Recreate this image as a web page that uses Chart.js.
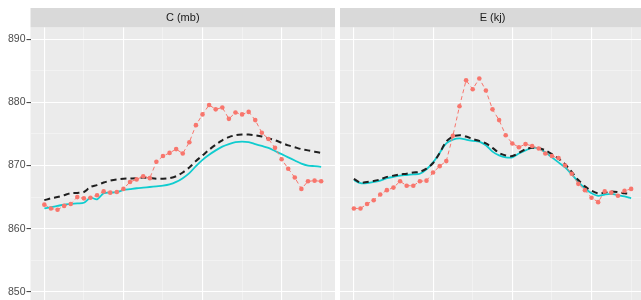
<!DOCTYPE html>
<html>
<head>
<meta charset="utf-8">
<script src="https://cdn.jsdelivr.net/npm/chart.js@4"></script>
<style>
  html, body { margin: 0; padding: 0; background: #fff; overflow: hidden; }
  body { width: 641px; height: 300px; position: relative; }
  .panel { position: absolute; top: 0; height: 300px; }
</style>
</head>
<body>
<div class="panel" style="left:0;width:335px"><canvas id="chartC"></canvas></div>
<div class="panel" style="left:340px;width:305px"><canvas id="chartE"></canvas></div>
<script>
// time steps (x axis labels are cut off in the picture)
const steps = [0, 1, 2, 3, 4, 5, 6, 7, 8, 9, 10, 11, 12, 13, 14, 15, 16, 17, 18, 19, 20,
  21, 22, 23, 24, 25, 26, 27, 28, 29, 30, 31, 32, 33, 34, 35, 36, 37, 38, 39, 40, 41, 42];

// panel C (mb)
const cObserved = [863.8, 863.2, 863.0, 863.6, 863.9, 865.0, 864.8, 864.9, 865.3, 865.9, 865.7,
  865.8, 866.3, 867.4, 867.8, 868.3, 868.0, 870.6, 871.5, 872.0, 872.6, 871.9, 873.7, 876.4,
  878.1, 879.6, 878.9, 879.2, 877.4, 878.4, 878.1, 878.5, 877.2, 875.2, 874.2, 872.8, 871.0,
  869.5, 868.1, 866.3, 867.5, 867.6, 867.5];
const cModelA = [864.5, 864.8, 865.0, 865.3, 865.6, 865.65, 865.8, 866.6, 866.9, 867.3, 867.6,
  867.8, 867.9, 867.95, 868.0, 868.1, 868.0, 867.9, 867.9, 868.0, 868.3, 868.9, 869.7, 870.7,
  871.6, 872.5, 873.3, 874.0, 874.5, 874.8, 874.9, 874.9, 874.8, 874.6, 874.3, 874.0, 873.6,
  873.2, 872.9, 872.6, 872.4, 872.2, 872.0];
const cModelB = [863.2, 863.4, 863.6, 863.8, 863.9, 864.0, 864.1, 864.9, 864.65, 865.6, 865.7,
  865.8, 866.1, 866.25, 866.4, 866.5, 866.6, 866.7, 866.8, 867.0, 867.4, 868.0, 868.8, 869.9,
  870.9, 871.7, 872.4, 873.0, 873.4, 873.7, 873.8, 873.7, 873.4, 873.1, 872.8, 872.3, 871.8,
  871.3, 870.8, 870.3, 870.0, 869.9, 869.8];

// panel E (kj)
const eObserved = [863.2, 863.2, 863.9, 864.5, 865.4, 866.1, 866.5, 867.5, 866.8, 866.8, 867.5,
  867.6, 868.9, 869.9, 870.7, 874.7, 879.4, 883.5, 882.1, 883.8, 881.9, 878.9, 877.2, 874.8,
  873.5, 872.9, 873.4, 873.1, 872.7, 871.9, 871.5, 871.2, 870.0, 868.7, 867.1, 866.1, 864.9,
  864.2, 865.9, 865.7, 865.2, 866.0, 866.3];
const eModelA = [867.9, 867.3, 867.4, 867.55, 867.8, 868.2, 868.4, 868.6, 868.7, 868.9, 869.0,
  869.5, 870.4, 872.0, 873.8, 874.6, 874.8, 874.6, 874.2, 873.9, 873.5, 872.8, 872.0, 871.6,
  871.5, 872.0, 872.6, 872.8, 872.8, 872.4, 871.8, 871.1, 870.2, 869.0, 867.7, 866.7, 866.0,
  865.6, 865.7, 865.9, 865.8, 865.6, 865.5];
const eModelB = [867.7, 867.2, 867.2, 867.4, 867.6, 868.0, 868.2, 868.4, 868.5, 868.6, 868.7,
  869.4, 870.5, 872.0, 873.5, 874.1, 874.3, 874.1, 873.9, 873.8, 873.2, 872.2, 871.6, 871.3,
  871.3, 871.9, 872.4, 872.8, 872.7, 872.1, 871.3, 870.5, 869.7, 868.6, 867.4, 866.4, 865.6,
  865.2, 865.4, 865.5, 865.3, 865.1, 864.8];

const yTicks = [850, 860, 870, 880, 890];

// grey panel + strip behind the title
const panelBg = {
  id: 'panelBg',
  beforeDraw(chart) {
    const ctx = chart.ctx;
    const a = chart.chartArea;
    const t = chart.titleBlock;
    ctx.save();
    ctx.fillStyle = '#EBEBEB';
    ctx.fillRect(a.left, a.top, a.right - a.left, a.bottom - a.top);
    ctx.fillStyle = '#D9D9D9';
    ctx.fillRect(a.left, t.top, a.right - a.left, t.bottom - t.top);
    ctx.restore();
  }
};

function points(values) {
  return values.map((v, i) => ({ x: steps[i], y: v }));
}

function makePanel(id, title, observed, modelA, modelB, showY) {
  const ctx = document.getElementById(id).getContext('2d');
  new Chart(ctx, {
    type: 'line',
    data: {
      datasets: [{
        data: points(observed),
        borderColor: '#F8766D',
        backgroundColor: '#F8766D',
        borderWidth: 1,
        borderDash: [4, 3],
        pointRadius: 2.3,
        pointBorderWidth: 0,
        tension: 0,
        order: 1
      }, {
        data: points(modelA),
        borderColor: '#1F1F1F',
        borderWidth: 2,
        borderDash: [6, 4],
        pointRadius: 0,
        tension: 0.3,
        order: 2
      }, {
        data: points(modelB),
        borderColor: '#10CCCF',
        borderWidth: 1.8,
        pointRadius: 0,
        tension: 0.3,
        order: 3
      }]
    },
    options: {
      responsive: true,
      maintainAspectRatio: false,
      animation: false,
      layout: { autoPadding: false, padding: { top: 8, left: 0, right: 0, bottom: 0 } },
      plugins: {
        legend: { display: false },
        tooltip: { enabled: false },
        title: {
          display: true,
          text: title,
          fullSize: false,
          color: '#1A1A1A',
          font: { family: "'Liberation Sans', Arial, sans-serif", size: 11, weight: 'normal', lineHeight: 1.2 },
          padding: { top: 3, bottom: 3.2 }
        }
      },
      scales: {
        x: {
          type: 'linear',
          min: -2.1,
          max: 44.1,
          border: { display: false },
          ticks: { display: false, stepSize: 6, includeBounds: false },
          grid: {
            drawTicks: false,
            color: (c) => c.tick.value % 12 === 0 ? '#FFFFFF' : 'rgba(255,255,255,0.6)',
            lineWidth: (c) => c.tick.value % 12 === 0 ? 1.1 : 0.6
          },
          afterFit: (s) => {
            s.height = 0;
            s.paddingLeft = s.paddingRight = s.paddingTop = s.paddingBottom = 0;
          }
        },
        y: {
          min: 848.69,
          max: 891.89,
          border: { display: false },
          ticks: {
            display: showY,
            stepSize: 5,
            includeBounds: false,
            padding: 1,
            color: '#4D4D4D',
            font: { family: "'Liberation Sans', Arial, sans-serif", size: 10.5 },
            callback: (v) => yTicks.includes(v) ? String(v) : ''
          },
          grid: {
            drawTicks: showY,
            tickLength: 4,
            tickColor: (c) => yTicks.includes(c.tick.value) ? '#4D4D4D' : 'rgba(0,0,0,0)',
            color: (c) => yTicks.includes(c.tick.value) ? '#FFFFFF' : 'rgba(255,255,255,0.6)',
            lineWidth: (c) => yTicks.includes(c.tick.value) ? 1.1 : 0.6
          },
          afterFit: (s) => {
            s.width = showY ? 30.5 : 0;
            s.paddingLeft = s.paddingRight = s.paddingTop = s.paddingBottom = 0;
          }
        }
      }
    },
    plugins: [panelBg]
  });
}

makePanel('chartC', 'C (mb)', cObserved, cModelA, cModelB, true);
makePanel('chartE', 'E (kj)', eObserved, eModelA, eModelB, false);
</script>
</body>
</html>
